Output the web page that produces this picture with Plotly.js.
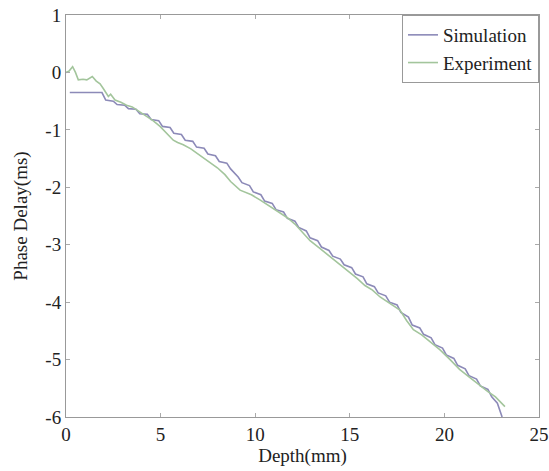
<!DOCTYPE html>
<html>
<head>
<meta charset="utf-8">
<script src="https://cdn.plot.ly/plotly-3.0.1.min.js"></script>
<style>html,body{margin:0;padding:0;background:#fff;}#chart{width:549px;height:471px;}</style>
</head>
<body>
<div id="chart"></div>
<script>
// Simulation (staircase-like)
const simDepth = [0.2,1.9,2.1,2.5,2.7,3.1,3.3,3.7,3.9,4.3,4.5,4.9,5.1,5.5,5.7,6.1,6.3,6.7,6.9,7.3,7.5,7.9,8.1,8.5,8.7,9.1,9.3,9.7,9.9,10.3,10.5,10.9,11.1,11.5,11.7,12.1,12.3,12.7,12.9,13.3,13.5,13.9,14.1,14.5,14.7,15.1,15.3,15.7,15.9,16.3,16.5,16.9,17.1,17.5,17.7,18.1,18.3,18.7,18.9,19.3,19.5,19.9,20.1,20.5,20.7,21.1,21.3,21.7,21.9,22.3,22.5,22.8,23.05];
const simDelay = [-0.35,-0.35,-0.48,-0.50,-0.56,-0.57,-0.63,-0.64,-0.72,-0.73,-0.82,-0.84,-0.94,-0.96,-1.06,-1.08,-1.18,-1.20,-1.30,-1.32,-1.42,-1.45,-1.55,-1.58,-1.68,-1.82,-1.92,-1.97,-2.08,-2.13,-2.24,-2.28,-2.39,-2.43,-2.54,-2.59,-2.70,-2.76,-2.88,-2.93,-3.04,-3.10,-3.20,-3.25,-3.35,-3.40,-3.51,-3.56,-3.68,-3.73,-3.84,-3.89,-4.00,-4.05,-4.18,-4.26,-4.40,-4.45,-4.56,-4.62,-4.74,-4.80,-4.92,-4.98,-5.10,-5.16,-5.28,-5.34,-5.46,-5.52,-5.65,-5.76,-6.0];
// Experiment
const expDepth = [0,0.15,0.35,0.5,0.65,0.9,1.1,1.25,1.39,1.6,1.8,1.97,2.24,2.36,2.59,2.9,3.2,3.5,3.73,4.0,4.26,4.6,4.97,5.3,5.67,5.9,6.2,6.6,7.08,7.5,8.0,8.4,8.7,9.2,9.5,9.8,10.25,10.7,11.3,11.7,12.1,12.5,12.9,13.4,14.0,14.5,15.0,15.4,15.8,16.2,16.6,17.1,17.65,18.0,18.36,18.8,19.3,19.77,20.3,20.8,21.3,21.9,22.3,22.7,23.2];
const expDelay = [0.0,0.02,0.1,0.0,-0.13,-0.12,-0.13,-0.10,-0.07,-0.15,-0.2,-0.28,-0.42,-0.38,-0.48,-0.52,-0.57,-0.60,-0.65,-0.70,-0.77,-0.84,-0.94,-1.05,-1.18,-1.22,-1.26,-1.33,-1.44,-1.53,-1.66,-1.78,-1.90,-2.05,-2.09,-2.13,-2.22,-2.32,-2.45,-2.53,-2.64,-2.78,-2.93,-3.06,-3.22,-3.34,-3.47,-3.59,-3.71,-3.79,-3.91,-4.02,-4.14,-4.32,-4.48,-4.57,-4.70,-4.83,-5.00,-5.17,-5.30,-5.46,-5.56,-5.65,-5.82];
const xTickVals = [0,5,10,15,20,25];
const xTickText = ["0","5","10","15","20","25"];
const yTickVals = [-6,-5,-4,-3,-2,-1,0,1];
const yTickText = ["-6","-5","-4","-3","-2","-1","0","1"];

const serif = "Liberation Serif";
const traces = [
  {x: simDepth, y: simDelay, mode: 'lines', name: 'Simulation', line: {color: '#8c8ab8', width: 1.6}},
  {x: expDepth, y: expDelay, mode: 'lines', name: 'Experiment', line: {color: '#a3c59c', width: 1.6}}
];
function axisBase() {
  return {
    showline: true, linecolor: '#999', linewidth: 1, mirror: 'ticks',
    ticks: 'inside', ticklen: 4, tickcolor: '#aaa', showgrid: false, zeroline: false,
    tickfont: {family: serif, size: 19, color: '#222'}
  };
}
const layout = {
  width: 549, height: 471,
  font: {family: serif, size: 18, color: '#222'},
  margin: {l: 66, r: 10, t: 15, b: 54},
  paper_bgcolor: '#fff', plot_bgcolor: '#fff',
  showlegend: true,
  legend: {x: 1, xanchor: 'right', y: 1, yanchor: 'top', bordercolor: '#999', borderwidth: 1,
           bgcolor: '#fff', font: {family: serif, size: 19, color: '#222'}, tracegroupgap: 4},
  xaxis: Object.assign(axisBase(), {range: [0, 25], tickvals: xTickVals, ticktext: xTickText,
           title: {text: 'Depth(mm)', font: {family: serif, size: 19, color: '#222'}, standoff: 2}}),
  yaxis: Object.assign(axisBase(), {range: [-6, 1], tickvals: yTickVals, ticktext: yTickText,
           title: {text: 'Phase Delay(ms)', font: {family: serif, size: 19, color: '#222'}, standoff: 12}})
};
Plotly.newPlot('chart', traces, layout, {displayModeBar: false, staticPlot: true});
</script>
</body>
</html>
